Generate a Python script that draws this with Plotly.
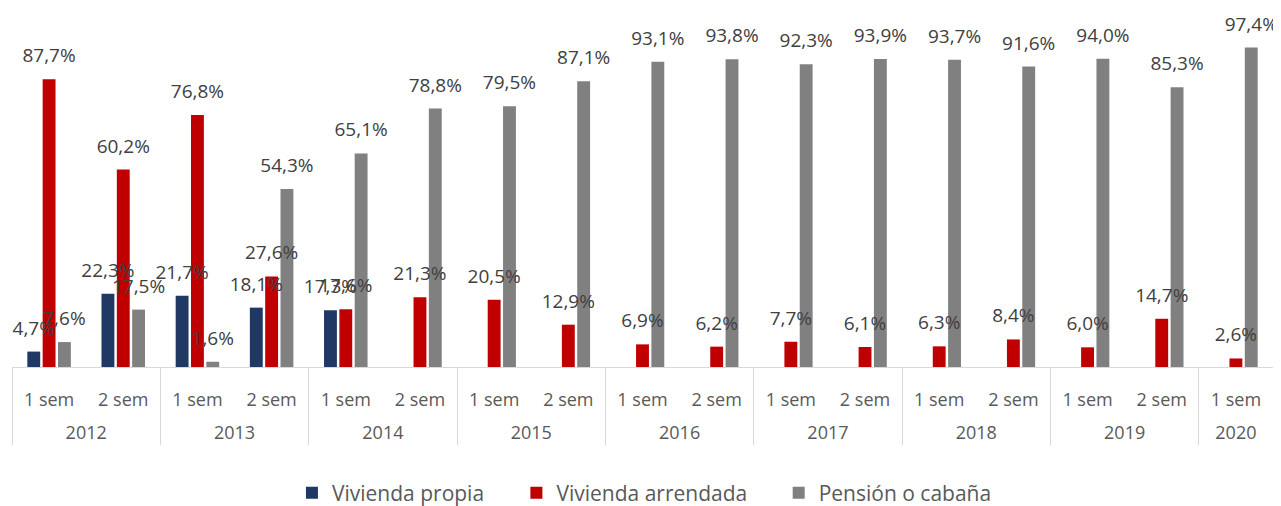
import plotly.graph_objects as go

# Categories (outer: year, inner: semester)
YEARS = ["2012", "2012", "2013", "2013", "2014", "2014", "2015", "2015",
         "2016", "2016", "2017", "2017", "2018", "2018", "2019", "2019", "2020"]
SEMS = ["1 sem", "2 sem", "1 sem", "2 sem", "1 sem", "2 sem", "1 sem", "2 sem",
        "1 sem", "2 sem", "1 sem", "2 sem", "1 sem", "2 sem", "1 sem", "2 sem", "1 sem"]

# Percentages per series
PROPIA = [4.7, 22.3, 21.7, 18.1, 17.3, None, None, None,
          None, None, None, None, None, None, None, None, None]
ARRENDADA = [87.7, 60.2, 76.8, 27.6, 17.6, 21.3, 20.5, 12.9,
             6.9, 6.2, 7.7, 6.1, 6.3, 8.4, 6.0, 14.7, 2.6]
PENSION = [7.6, 17.5, 1.6, 54.3, 65.1, 78.8, 79.5, 87.1,
           93.1, 93.8, 92.3, 93.9, 93.7, 91.6, 94.0, 85.3, 97.4]

SERIES = [
    ("Vivienda propia", PROPIA, "#1F3864"),
    ("Vivienda arrendada", ARRENDADA, "#C00000"),
    ("Pensión o cabaña", PENSION, "#808080"),
]

FONT = "Open Sans"

# each series gets its own legend box so spacing can follow the original
LEGEND_X = [0.222, 0.400, 0.608]


def fmt(v):
    # Spanish decimal comma
    if v is None:
        return ""
    return ("%.1f" % v).replace(".", ",") + "%"


# an empty first line drops the year row further below the semester row
year_labels = ["<br>" + y for y in YEARS]

fig = go.Figure()
for i, (name, vals, color) in enumerate(SERIES):
    fig.add_trace(go.Bar(
        x=[year_labels, SEMS],
        y=vals,
        name=name,
        marker=dict(color=color, line=dict(width=0)),
        offsetgroup=str(i),
        legend="legend" if i == 0 else "legend%d" % (i + 1),
    ))

# Value labels sit above the bars, grouped like the bars
for i, (name, vals, color) in enumerate(SERIES):
    fig.add_trace(go.Scatter(
        x=[year_labels, SEMS],
        y=vals,
        mode="markers+text",
        text=[fmt(v) for v in vals],
        textposition="top center",
        textfont=dict(family=FONT, size=19, color="#404040"),
        marker=dict(size=18, opacity=0),
        offsetgroup=str(i),
        showlegend=False,
        hoverinfo="skip",
        cliponaxis=False,
    ))

legend_style = dict(
    orientation="h",
    xanchor="left",
    yref="container",
    y=0.026, yanchor="middle",
    font=dict(family=FONT, size=21, color="#595959"),
    bgcolor="rgba(0,0,0,0)",
)

# page body has an 8px margin, so the figure is 8px smaller each way
fig.update_layout(
    width=1273,
    height=498,
    margin=dict(l=4, r=8, t=31, b=139),
    plot_bgcolor="white",
    paper_bgcolor="white",
    barmode="group",
    bargap=0.38,
    bargroupgap=0.16,
    scattermode="group",
    scattergap=0.38,
    font=dict(family=FONT, color="#595959"),
    legend=dict(legend_style, x=LEGEND_X[0]),
    legend2=dict(legend_style, x=LEGEND_X[1]),
    legend3=dict(legend_style, x=LEGEND_X[2]),
    xaxis=dict(
        range=[-0.5, len(SEMS) - 0.5],
        showline=True,
        linecolor="#D9D9D9",
        linewidth=1,
        showdividers=True,
        dividercolor="#D9D9D9",
        dividerwidth=1,
        ticks="",
        ticklabelstandoff=16,
        tickfont=dict(family=FONT, size=18, color="#595959"),
        showgrid=False,
        automargin=False,
    ),
    yaxis=dict(
        range=[0, 100],
        visible=False,
        showgrid=False,
        zeroline=False,
    ),
)

fig.write_html("out.html")
